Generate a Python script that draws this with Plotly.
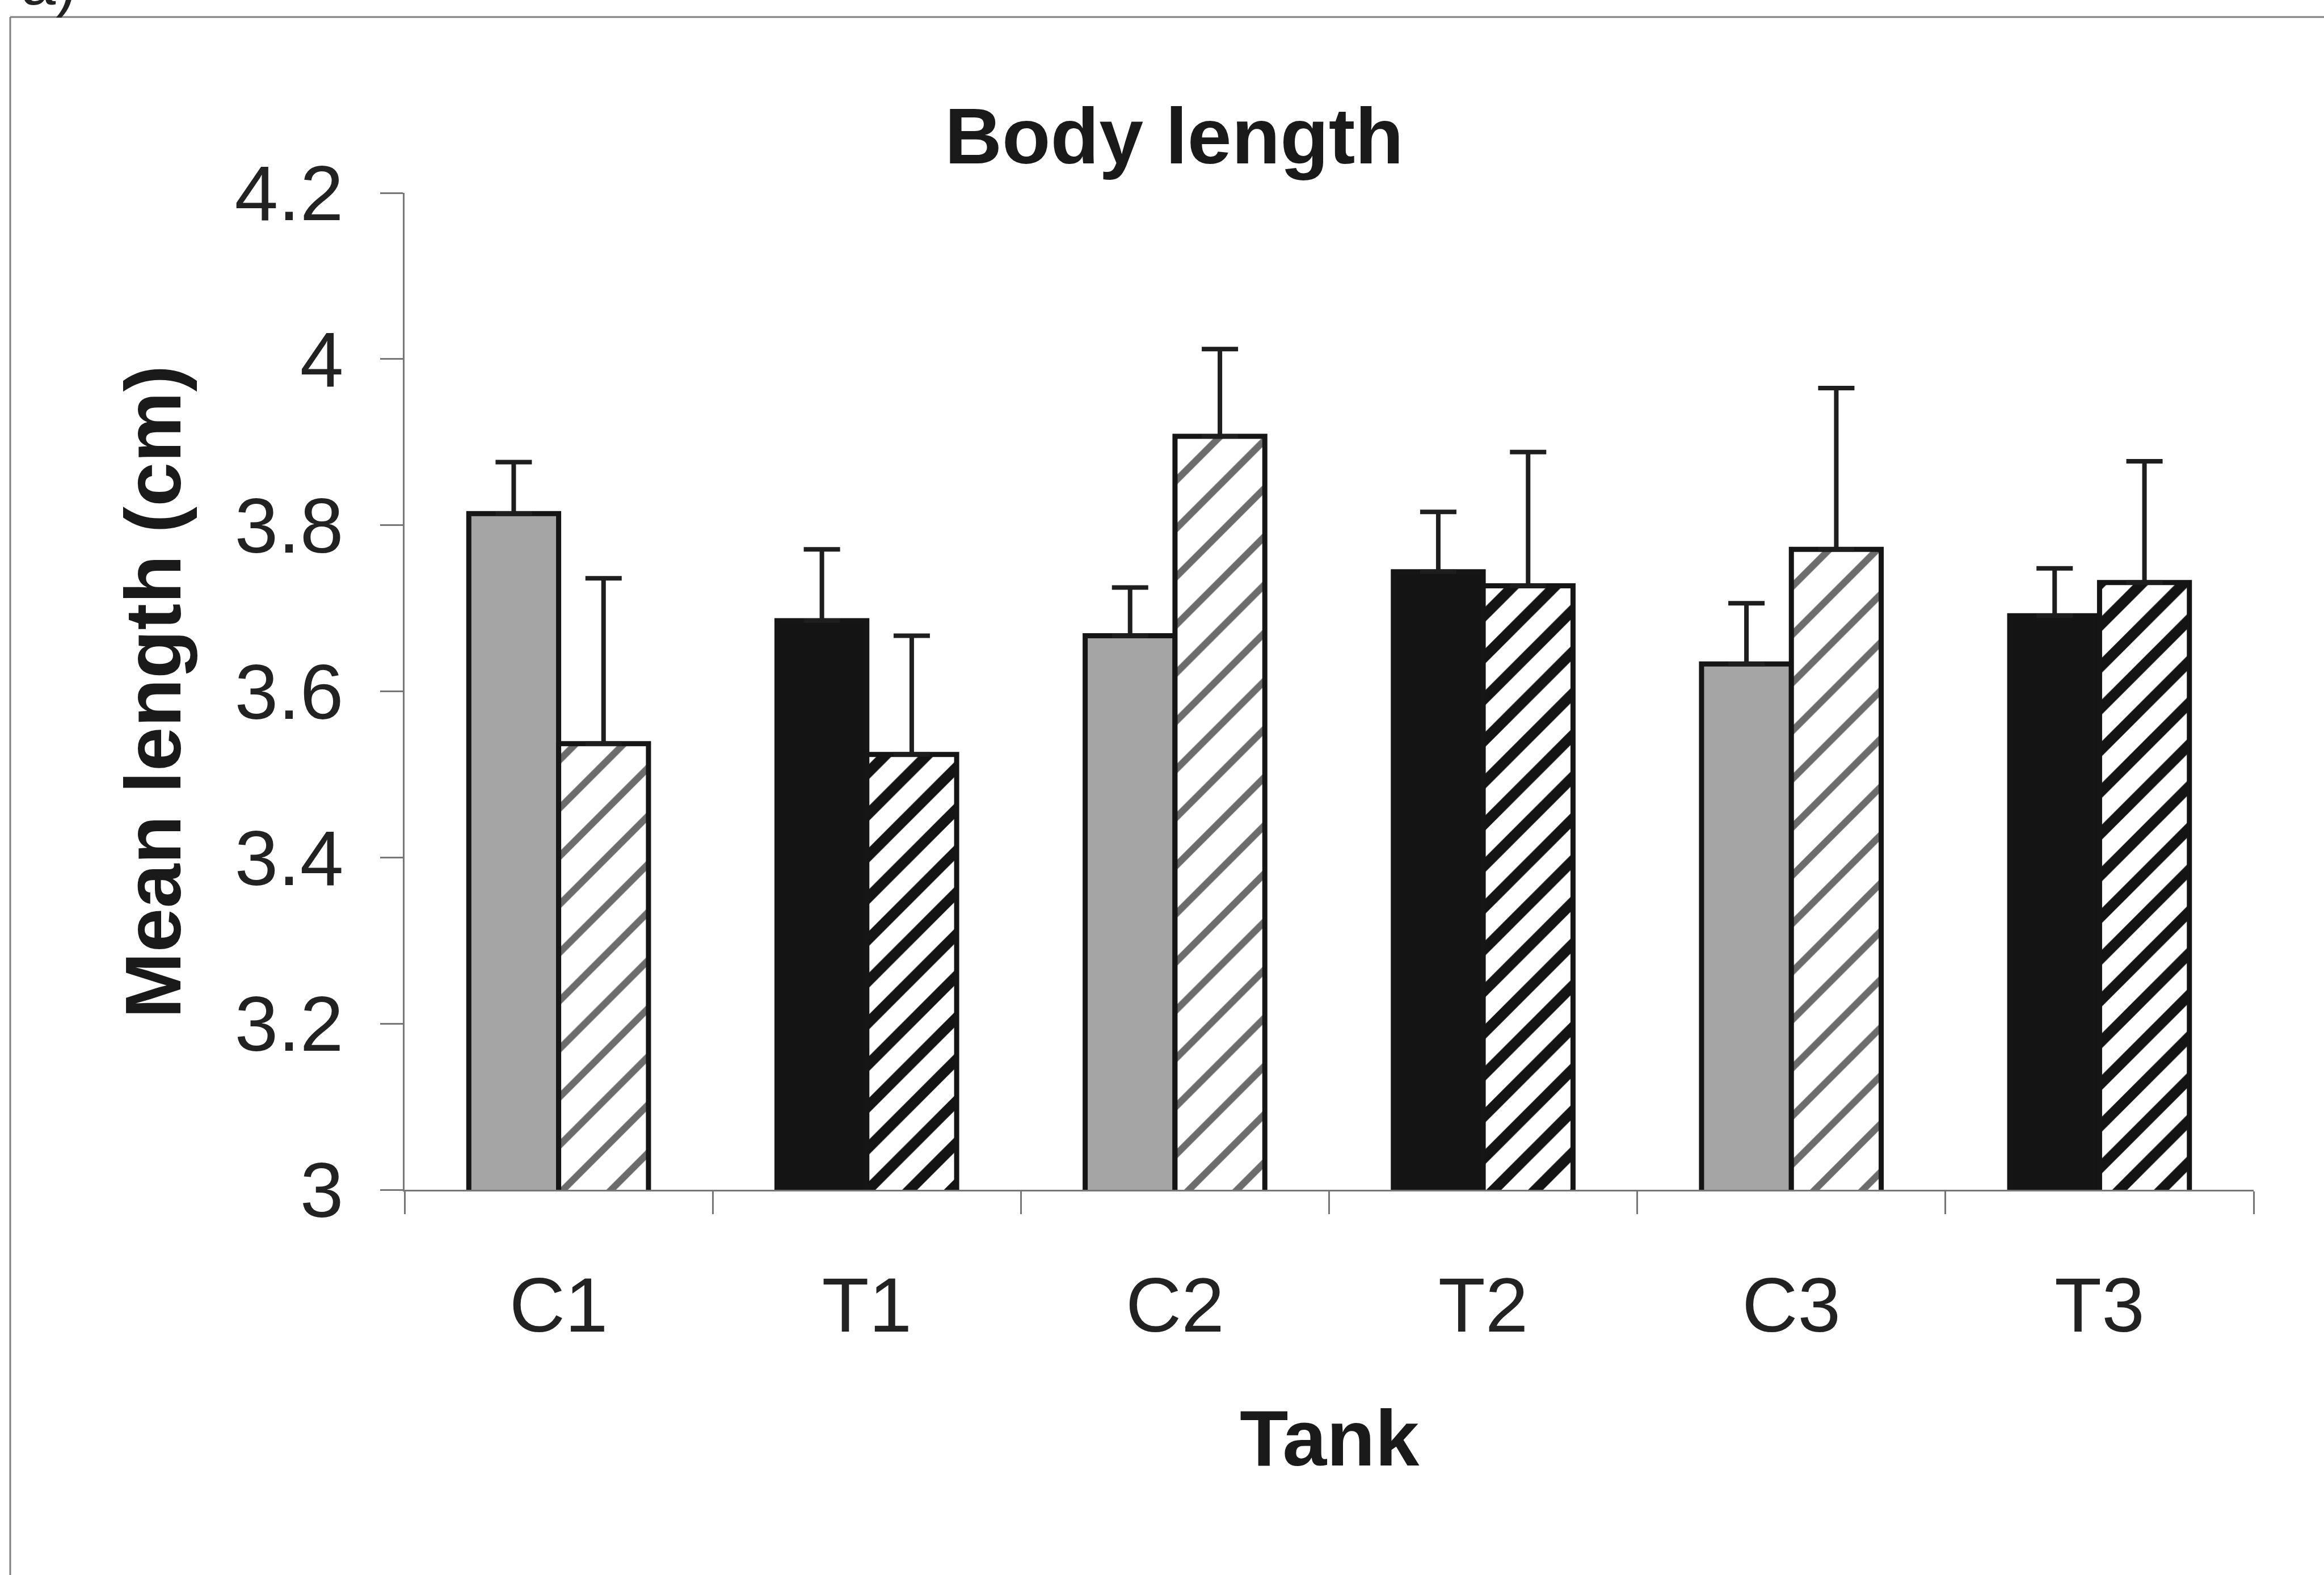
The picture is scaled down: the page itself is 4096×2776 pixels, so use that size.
import plotly.graph_objects as go

# ---- data ----
categories = ["C1", "T1", "C2", "T2", "C3", "T3"]
solid_mean = [3.814, 3.685, 3.667, 3.744, 3.633, 3.691]
solid_err = [0.062, 0.086, 0.058, 0.072, 0.073, 0.057]
hatched_mean = [3.537, 3.524, 3.907, 3.727, 3.771, 3.731]
hatched_err = [0.199, 0.143, 0.105, 0.161, 0.194, 0.146]
y_tickvals = [3, 3.2, 3.4, 3.6, 3.8, 4, 4.2]
y_ticktext = ["3", "3.2", "3.4", "3.6", "3.8", "4", "4.2"]

# ---- styles ----
FONT = "Liberation Sans, Arial, Helvetica, sans-serif"
solid_colors = ["#a5a5a5" if c.startswith("C") else "#141414" for c in categories]
hatch_fg = ["#6c6c6c" if c.startswith("C") else "#141414" for c in categories]
hatch_solidity = [0.2 if c.startswith("C") else 0.36 for c in categories]
hatch_size = [60 if c.startswith("C") else 52 for c in categories]

fig = go.Figure()
fig.add_trace(go.Bar(
    x=categories, y=solid_mean,
    marker=dict(color=solid_colors, line=dict(color="#151515", width=9)),
    error_y=dict(type="data", symmetric=False, array=solid_err,
                 arrayminus=[0] * len(solid_err),
                 color="#1e1e1e", thickness=8, width=32),
    showlegend=False,
))
fig.add_trace(go.Bar(
    x=categories, y=hatched_mean,
    marker=dict(color="white", line=dict(color="#151515", width=9),
                pattern=dict(shape="/", bgcolor="white", fgcolor=hatch_fg,
                             solidity=hatch_solidity, size=hatch_size,
                             fillmode="replace")),
    error_y=dict(type="data", symmetric=False, array=hatched_err,
                 arrayminus=[0] * len(hatched_err),
                 color="#1e1e1e", thickness=8, width=32),
    showlegend=False,
))

W, H = 4096, 2776
L, R, T, B = 713, 124, 340, 679
pw = W - L - R
ph = H - T - B

def px(xo):
    return (xo - L) / pw

def py(yo):
    return (H - B - yo) / ph

fig.update_layout(
    width=W, height=H,
    margin=dict(l=L, r=R, t=T, b=B, pad=0),
    paper_bgcolor="white", plot_bgcolor="white",
    barmode="group", bargap=0.417, bargroupgap=0,
    font=dict(family=FONT, color="#222222"),
    xaxis=dict(
        type="category", range=[-0.5, 5.5],
        showline=True, linecolor="#777777", linewidth=3,
        ticks="outside", tickson="boundaries", ticklen=40,
        tickcolor="#777777", tickwidth=3,
        tickfont=dict(size=136, family=FONT, color="#222222"),
        ticklabelstandoff=84,
        showgrid=False, zeroline=False,
    ),
    yaxis=dict(
        range=[3, 4.2], tickvals=y_tickvals, ticktext=y_ticktext,
        showline=True, linecolor="#777777", linewidth=3,
        ticks="outside", ticklen=40, tickcolor="#777777", tickwidth=3,
        tickfont=dict(size=138, family=FONT, color="#222222"),
        ticklabelstandoff=37,
        showgrid=False, zeroline=False,
    ),
    annotations=[
        dict(text="<b>Body length</b>", xref="paper", yref="paper",
             x=px(2069), y=py(239), xanchor="center", yanchor="middle",
             showarrow=False, font=dict(size=140, family=FONT, color="#1a1a1a")),
        dict(text="<b>Tank</b>", xref="paper", yref="paper",
             x=px(2343), y=py(2534), xanchor="center", yanchor="middle",
             showarrow=False, font=dict(size=140, family=FONT, color="#1a1a1a")),
        dict(text="<b>Mean length (cm)</b>", xref="paper", yref="paper",
             x=px(269), y=py(1220), xanchor="center", yanchor="middle",
             textangle=-90, showarrow=False,
             font=dict(size=140, family=FONT, color="#1a1a1a")),
        dict(text="a)", xref="paper", yref="paper",
             x=px(35), y=py(-30), xanchor="left", yanchor="middle",
             showarrow=False, font=dict(size=110, family=FONT, color="#222222")),
    ],
    shapes=[
        dict(type="line", xref="paper", yref="paper",
             x0=px(18), x1=px(18), y0=py(H + 50), y1=py(30),
             line=dict(color="#808080", width=3)),
        dict(type="line", xref="paper", yref="paper",
             x0=px(18), x1=px(W + 50), y0=py(30), y1=py(30),
             line=dict(color="#808080", width=3)),
    ],
)

fig.write_html("out.html")
